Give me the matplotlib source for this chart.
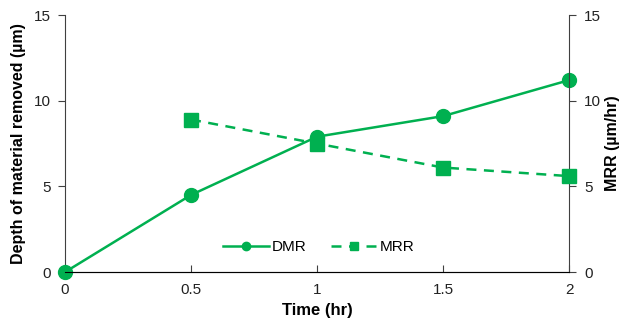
import matplotlib.pyplot as plt
from matplotlib.lines import Line2D

plt.rcParams['font.family'] = ['Liberation Sans', 'DejaVu Sans']

time_dmr = [0, 0.5, 1, 1.5, 2]
dmr = [0, 4.5, 7.9, 9.1, 11.2]
time_mrr = [0.5, 1, 1.5, 2]
mrr = [8.9, 7.5, 6.1, 5.6]
green = '#00B050'

fig = plt.figure(figsize=(6.21, 3.27), dpi=100)
ax = fig.add_axes([0.1047, 0.168, 0.8116, 0.786])
ax2 = ax.twinx()

ax.plot(time_dmr, dmr, color=green, lw=1.8, marker='o', ms=10, clip_on=False, zorder=3)
ax2.plot(time_mrr, mrr, color=green, lw=1.8, ls=(0, (4, 3)), marker='s', ms=10,
         clip_on=False, zorder=3)

for a in (ax, ax2):
    a.set_xlim(0, 2)
    a.set_ylim(0, 15)
    a.set_yticks([0, 5, 10, 15])
    a.spines['top'].set_visible(False)
    a.tick_params(labelsize=11, colors='#404040', labelcolor='#222222')
ax.spines['right'].set_visible(False)
ax2.spines['left'].set_visible(False)
for s in ('left', 'bottom'):
    ax.spines[s].set_color('#404040')
ax2.spines['right'].set_color('#404040')
ax.set_xticks([0, 0.5, 1, 1.5, 2])
ax.set_xticklabels(['0', '0.5', '1', '1.5', '2'])
ax.tick_params(axis='x', direction='in', length=5, pad=8)
ax.tick_params(axis='y', direction='out', length=5, pad=5)
ax2.tick_params(axis='y', direction='out', length=5, pad=6)

ax.set_xlabel('Time (hr)', fontsize=12, fontweight='bold', labelpad=4)
ax.set_ylabel('Depth of material removed (\u00b5m)', fontsize=11.5, fontweight='bold', labelpad=6)
ax2.set_ylabel('MRR (\u00b5m/hr)', fontsize=11.5, fontweight='bold', labelpad=3)

handles = [
    Line2D([], [], color=green, lw=1.8, marker='o', ms=6),
    Line2D([], [], color=green, lw=1.8, ls=(0, (4, 3)), marker='s', ms=6),
]
ax.legend(handles, ['DMR', 'MRR'], loc='center', bbox_to_anchor=(0.504, 0.097),
          ncol=2, frameon=False, fontsize=11, handlelength=3, handletextpad=0.2,
          columnspacing=1.6)

fig.savefig('out.png', dpi=100)
